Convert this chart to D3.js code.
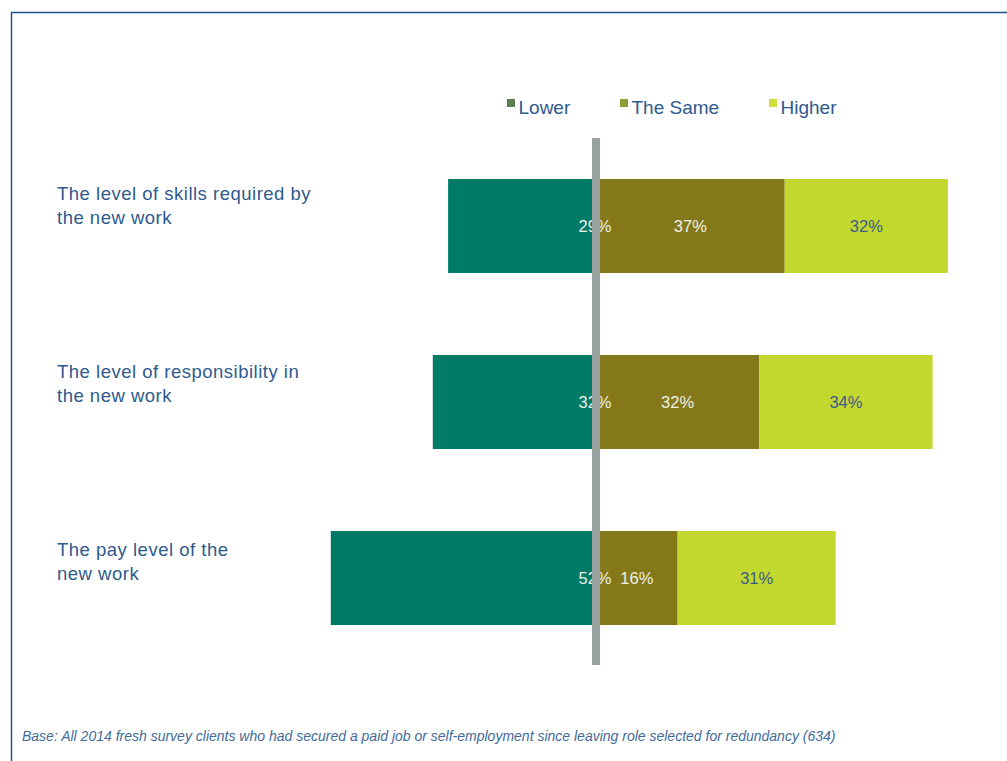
<!DOCTYPE html>
<html>
<head>
<meta charset="utf-8">
<script src="https://cdn.jsdelivr.net/npm/d3@7"></script>
<style>
  html, body { margin: 0; padding: 0; background: #fff; }
  svg { display: block; font-family: "Liberation Sans", Arial, Helvetica, sans-serif; }
</style>
</head>
<body>
<svg id="chart" width="1007" height="761"></svg>
<script>
// Survey outcome: how the new work compares with the role left
const categories = [
  ["The level of skills required by", "the new work"],
  ["The level of responsibility in", "the new work"],
  ["The pay level of the", "new work"]
];
const seriesNames = ["Lower", "The Same", "Higher"];
const lowerValues = [29, 32, 52];
const sameValues = [37, 32, 16];
const higherValues = [32, 34, 31];
const footnote = "Base: All 2014 fresh survey clients who had secured a paid job or self-employment since leaving role selected for redundancy (634)";

const barColors = ["#007b68", "#85781a", "#c3d82f"];
const swatchColors = ["#5e7d52", "#8f9c3a", "#d1df3a"];
const labelColors = ["#eef0e6", "#eef0e6", "#3c5a8a"];
const textBlue = "#2e5a8e";

const svg = d3.select("#chart");

// frame
svg.append("path")
  .attr("d", "M11.5,770 V12.5 H1015")
  .attr("fill", "none")
  .attr("stroke", "#1c4f8f")
  .attr("stroke-width", 1.4);

const x = d3.scaleLinear().domain([-60, 80]).range([290, 1004]);
const y = d3.scaleBand()
  .domain(d3.range(categories.length))
  .range([179, 625])
  .paddingInner(0.466)
  .paddingOuter(0);

const rows = categories.map((c, i) => ({
  i,
  label: c,
  segs: [
    { s: 0, x0: -lowerValues[i], x1: 0, v: lowerValues[i] },
    { s: 1, x0: 0, x1: sameValues[i], v: sameValues[i] },
    { s: 2, x0: sameValues[i], x1: sameValues[i] + higherValues[i], v: higherValues[i] }
  ]
}));

const row = svg.selectAll("g.row").data(rows).join("g").attr("class", "row");

row.selectAll("rect")
  .data(d => d.segs.map(s => ({ ...s, i: d.i })))
  .join("rect")
  .attr("x", d => x(d.x0))
  .attr("width", d => x(d.x1) - x(d.x0))
  .attr("y", d => y(d.i))
  .attr("height", y.bandwidth())
  .attr("fill", d => barColors[d.s]);

// category labels
row.append("text")
  .attr("x", 57)
  .attr("y", d => y(d.i) + 21 + d.i * 2)
  .attr("fill", textBlue)
  .style("font-size", "18.5px")
  .style("letter-spacing", "0.5px")
  .selectAll("tspan")
  .data(d => d.label)
  .join("tspan")
  .attr("x", 57)
  .attr("dy", (d, k) => k === 0 ? 0 : 23.5)
  .text(d => d);

// center divider
svg.append("rect")
  .attr("x", x(0) - 4)
  .attr("width", 8)
  .attr("y", 138)
  .attr("height", 527)
  .attr("fill", "#98a29e");

// value labels (Lower sits on the divider, others centred in their segment)
row.selectAll("text.val")
  .data(d => d.segs.map(s => ({ ...s, i: d.i })))
  .join("text")
  .attr("class", "val")
  .attr("x", d => d.s === 0 ? x(0) - 1 : x((d.x0 + d.x1) / 2))
  .attr("y", d => y(d.i) + y.bandwidth() / 2 + 6)
  .attr("text-anchor", "middle")
  .attr("fill", d => labelColors[d.s])
  .style("font-size", "16.5px")
  .text(d => d.v + "%");

// legend
const legendX = [507, 620, 769];
const lg = svg.selectAll("g.legend").data(seriesNames).join("g").attr("class", "legend");
lg.append("rect")
  .attr("x", (d, k) => legendX[k])
  .attr("y", 99)
  .attr("width", 8)
  .attr("height", 8)
  .attr("fill", (d, k) => swatchColors[k]);
lg.append("text")
  .attr("x", (d, k) => legendX[k] + 11.5)
  .attr("y", 114)
  .attr("fill", textBlue)
  .style("font-size", "19px")
  .text(d => d);

// footnote
svg.append("text")
  .attr("x", 22)
  .attr("y", 741)
  .attr("fill", "#3f6b9b")
  .style("font-size", "14px")
  .style("font-style", "italic")
  .text(footnote);
</script>
</body>
</html>
